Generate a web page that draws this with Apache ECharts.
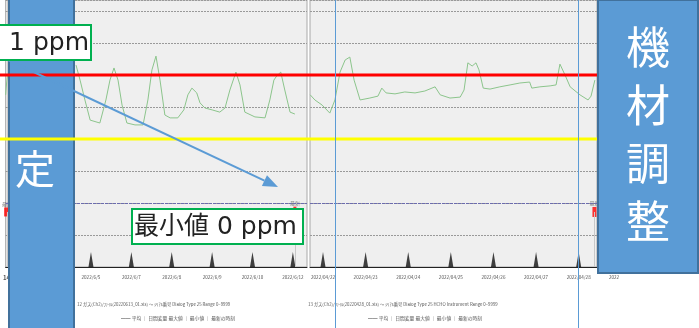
<!DOCTYPE html>
<html>
<head>
<meta charset="utf-8">
<script src="https://cdn.jsdelivr.net/npm/echarts@6/dist/echarts.min.js"></script>
<style>
html, body { margin: 0; padding: 0; background: #fff; }
#chart { width: 699px; height: 328px; }
</style>
</head>
<body>
<div id="chart"></div>
<script>
// 左端パネル（ほとんど隠れている）
var days0 = [0, 0.4, 0.8];
var ppm0 = [5.38, 5.75, 6.0];
var tickDays0 = [0.375];
var tickLabels0 = ['14'];

// パネル1
var days1 = [0.63,0.73,0.85,0.98,1.22,1.37,1.47,1.57,1.67,1.77,1.89,2.09,2.29,2.41,2.51,2.61,2.71,2.83,2.96,3.15,3.30,3.40,3.50,3.62,3.70,3.82,4.00,4.19,4.32,4.44,4.59,4.69,4.81,5.06,5.31,5.43,5.53,5.60,5.70,5.80,5.93,6.05];
var ppm1 = [6.31,5.84,5.22,4.59,4.50,5.22,5.84,6.22,5.84,5.06,4.50,4.44,4.44,5.22,6.16,6.59,5.84,4.75,4.66,4.66,4.91,5.38,5.59,5.44,5.13,4.97,4.91,4.84,4.97,5.53,6.09,5.69,4.84,4.69,4.66,5.22,5.84,5.97,6.09,5.53,4.84,4.78];
var tickDays1 = [1, 2, 3, 4, 5, 6];
var tickLabels1 = ['2022/6/5', '2022/6/7', '2022/6/8', '2022/6/9', '2022/6/10', '2022/6/12'];

// パネル2
var days2 = [21.70,21.81,21.98,22.16,22.28,22.40,22.52,22.63,22.73,22.87,23.10,23.29,23.38,23.48,23.69,23.92,24.16,24.39,24.63,24.75,24.98,25.22,25.31,25.40,25.50,25.59,25.66,25.76,25.92,26.15,26.39,26.62,26.85,26.90,27.09,27.33,27.47,27.56,27.68,27.80,28.03,28.22,28.29,28.38];
var ppm2 = [5.38,5.22,5.06,4.81,5.22,6.09,6.47,6.56,5.84,5.22,5.28,5.34,5.59,5.44,5.41,5.47,5.44,5.50,5.63,5.38,5.28,5.31,5.53,6.38,6.28,6.38,6.16,5.59,5.56,5.63,5.69,5.75,5.78,5.59,5.63,5.66,5.69,6.34,6.00,5.63,5.38,5.22,5.34,5.84];
var tickDays2 = [22, 23, 24, 25, 26, 27, 28];
var tickLabels2 = ['2022/04/22', '2022/04/23', '2022/04/24', '2022/04/25', '2022/04/26', '2022/04/27', '2022/04/28'];

// 右端パネル（箱の下）
var tickDays3 = [0.16];
var tickLabels3 = ['2022'];

// 基準線（赤・黄）と下の線
var redLine = 6;
var yellowLine = 4;
var baseLine = 2;

// 最新データの位置 [日, 値]
var latest0 = [0.62, 1.72];
var latest1 = [6.05, 1.84];
var latest2 = [28.37, 1.72];

var xRanges = [[0, 1], [-1.03, 6.35], [21.695, 28.43], [0, 1]];
var ticksAll = [tickDays0, tickDays1, tickDays2, tickDays3];
var labelsAll = [tickLabels0, tickLabels1, tickLabels2, tickLabels3];
var gridBoxes = [[0, 8], [9, 298], [310, 287], [598, 100]];

var font = '"Noto Sans CJK JP", "Noto Sans", sans-serif';
var boxFont = '"DejaVu Sans", "Noto Sans CJK JP", sans-serif';

function zip(xs, ys) {
  return xs.map(function (x, i) { return [x, ys[i]]; });
}

var chart = echarts.init(document.getElementById('chart'));

var grids = gridBoxes.map(function (b) {
  return {
    left: b[0], top: 0, width: b[1], height: 267,
    show: true, backgroundColor: '#efefef', borderColor: '#a8a8a8', borderWidth: 1
  };
});

var xAxes = xRanges.map(function (r, i) {
  return {
    gridIndex: i, type: 'value', min: r[0], max: r[1],
    axisLine: { show: true, onZero: false, lineStyle: { color: '#222', width: 1 } },
    axisTick: { show: false },
    splitLine: { show: false },
    axisLabel: {
      customValues: ticksAll[i],
      formatter: function (v) {
        var t = ticksAll[i], best = 0;
        for (var k = 0; k < t.length; k++) if (Math.abs(t[k] - v) < Math.abs(t[best] - v)) best = k;
        return labelsAll[i][best];
      },
      fontSize: i === 0 ? 6 : 4.6, color: '#555', margin: 8, fontFamily: font,
      fontWeight: i === 0 ? 'bold' : 'normal'
    }
  };
});

var yAxes = xRanges.map(function (r, i) {
  return {
    gridIndex: i, type: 'value', min: 0, max: 267 / 32, interval: 1,
    axisLine: { show: false }, axisTick: { show: false }, axisLabel: { show: false },
    splitLine: { show: true, lineStyle: { color: '#999', type: [2, 1], width: 1 } }
  };
});

function greenLine(i, data) {
  return {
    type: 'line', xAxisIndex: i, yAxisIndex: i, data: data,
    showSymbol: false, silent: true,
    lineStyle: { color: '#8cc58c', width: 1 },
    markLine: {
      silent: true, symbol: 'none', label: { show: false },
      lineStyle: { color: '#6c6cae', type: [3, 1], width: 1.2 },
      data: [{ yAxis: baseLine }]
    }
  };
}

function tickMarks(i, days) {
  return {
    type: 'scatter', xAxisIndex: i, yAxisIndex: i, clip: false, silent: true,
    data: days.map(function (d) { return [d, 0]; }),
    symbol: 'triangle', symbolSize: [5, 15], symbolOffset: [0, -7.5],
    itemStyle: { color: '#111' }
  };
}

function latestMark(i, p, size) {
  return {
    type: 'scatter', xAxisIndex: i, yAxisIndex: i, clip: false, silent: true,
    data: [p], symbol: 'rect', symbolSize: size,
    itemStyle: { color: '#ff0000' },
    label: { show: true, position: 'top', distance: 1, formatter: '最新', fontSize: 5, color: '#666', fontFamily: font },
    markLine: {
      silent: true, symbol: 'none', label: { show: false },
      lineStyle: { color: '#c8c8c8', type: 'solid', width: 1 },
      data: [[{ coord: [p[0], p[1]] }, { coord: [p[0], 0] }]]
    }
  };
}

chart.setOption({
  animation: false,
  backgroundColor: '#fff',
  grid: grids,
  xAxis: xAxes,
  yAxis: yAxes,
  series: [
    greenLine(0, zip(days0, ppm0)),
    greenLine(1, zip(days1, ppm1)),
    greenLine(2, zip(days2, ppm2)),
    tickMarks(1, tickDays1),
    tickMarks(2, tickDays2),
    latestMark(0, latest0, [6, 9]),
    latestMark(1, latest1, [3, 3]),
    latestMark(2, latest2, [4, 10])
  ]
});

// 赤・黄の線はスライド上の図形として箱の上にも描かれている
var yRed = chart.convertToPixel({ gridIndex: 1 }, [0, redLine])[1];
var yYellow = chart.convertToPixel({ gridIndex: 1 }, [0, yellowLine])[1];

var tip = [278, 187], from = [6, 59];
var dx = tip[0] - from[0], dy = tip[1] - from[1], len = Math.sqrt(dx * dx + dy * dy);
var ux = dx / len, uy = dy / len;
var bx = tip[0] - ux * 15, by = tip[1] - uy * 15;

var legend1a = '12 ガス(Ch2)/ﾌｧｲﾙ(20220613_01.xls) ～ ｼﾘｱﾙ番号 Dialog Type 25 Range 0~9999';
var legend1b = '━━ 平均 ｜ 日間変量 最大値 ｜ 最小値 ｜ 最新の時刻';
var legend2a = '13 ガス(Ch2)/ﾌｧｲﾙ(20220428_01.xls) ～ ｼﾘｱﾙ番号 Dialog Type 25 HCHO Instrument Range 0~9999';

chart.setOption({
  graphic: [
    // 下部の凡例テキスト
    { type: 'text', left: 77, top: 302, z: 10, style: { text: legend1a, fontSize: 4.3, fill: '#555', fontFamily: font } },
    { type: 'text', left: 121, top: 316, z: 10, style: { text: legend1b, fontSize: 4.8, fill: '#555', fontFamily: font } },
    { type: 'text', left: 308, top: 302, z: 10, style: { text: legend2a, fontSize: 4.3, fill: '#555', fontFamily: font } },
    { type: 'text', left: 368, top: 316, z: 10, style: { text: legend1b, fontSize: 4.8, fill: '#555', fontFamily: font } },
    // 左の青い箱
    { type: 'rect', z: 20, shape: { x: 9, y: -3, width: 65, height: 335 },
      style: { fill: '#5b9bd5', stroke: '#41719c', lineWidth: 2 } },
    { type: 'text', z: 21, x: 35, y: 169,
      style: { text: '定', fontSize: 40, fill: '#fff', fontFamily: font, align: 'center', verticalAlign: 'middle' } },
    // 右の青い箱
    { type: 'rect', z: 20, shape: { x: 598, y: 0, width: 100, height: 273 },
      style: { fill: '#5b9bd5', stroke: '#41719c', lineWidth: 2 } },
    { type: 'text', z: 21, x: 648, y: 134,
      style: { text: '機\n材\n調\n整', fontSize: 44, lineHeight: 58, fill: '#fff', fontFamily: font, align: 'center', verticalAlign: 'middle' } },
    // 赤・黄の線
    { type: 'line', z: 22, shape: { x1: 0, y1: yRed, x2: 597, y2: yRed }, style: { stroke: '#ff0000', lineWidth: 3 } },
    { type: 'line', z: 22, shape: { x1: 0, y1: yYellow, x2: 597, y2: yYellow }, style: { stroke: '#ffff00', lineWidth: 3 } },
    // 縦の青い線
    { type: 'line', z: 23, shape: { x1: 335.5, y1: 0, x2: 335.5, y2: 328 }, style: { stroke: '#5b9bd5', lineWidth: 1 } },
    { type: 'line', z: 23, shape: { x1: 578.5, y1: 0, x2: 578.5, y2: 328 }, style: { stroke: '#5b9bd5', lineWidth: 1 } },
    // 矢印
    { type: 'line', z: 24, shape: { x1: from[0], y1: from[1], x2: bx, y2: by }, style: { stroke: '#5b9bd5', lineWidth: 2 } },
    { type: 'polygon', z: 24, shape: { points: [tip, [bx - uy * 6, by + ux * 6], [bx + uy * 6, by - ux * 6]] },
      style: { fill: '#5b9bd5' } },
    // 注記の箱
    { type: 'rect', z: 25, shape: { x: -20, y: 25, width: 111, height: 35 },
      style: { fill: '#fff', stroke: '#00b050', lineWidth: 2 } },
    { type: 'text', z: 26, x: 89, y: 43,
      style: { text: '最大値 1 ppm', fontSize: 25, fill: '#222', fontFamily: boxFont, align: 'right', verticalAlign: 'middle' } },
    { type: 'rect', z: 25, shape: { x: 132, y: 209, width: 171, height: 35 },
      style: { fill: '#fff', stroke: '#00b050', lineWidth: 2 } },
    { type: 'text', z: 26, x: 134, y: 227,
      style: { text: '最小値 0 ppm', fontSize: 25, fill: '#222', fontFamily: boxFont, align: 'left', verticalAlign: 'middle' } }
  ]
});
</script>
</body>
</html>
